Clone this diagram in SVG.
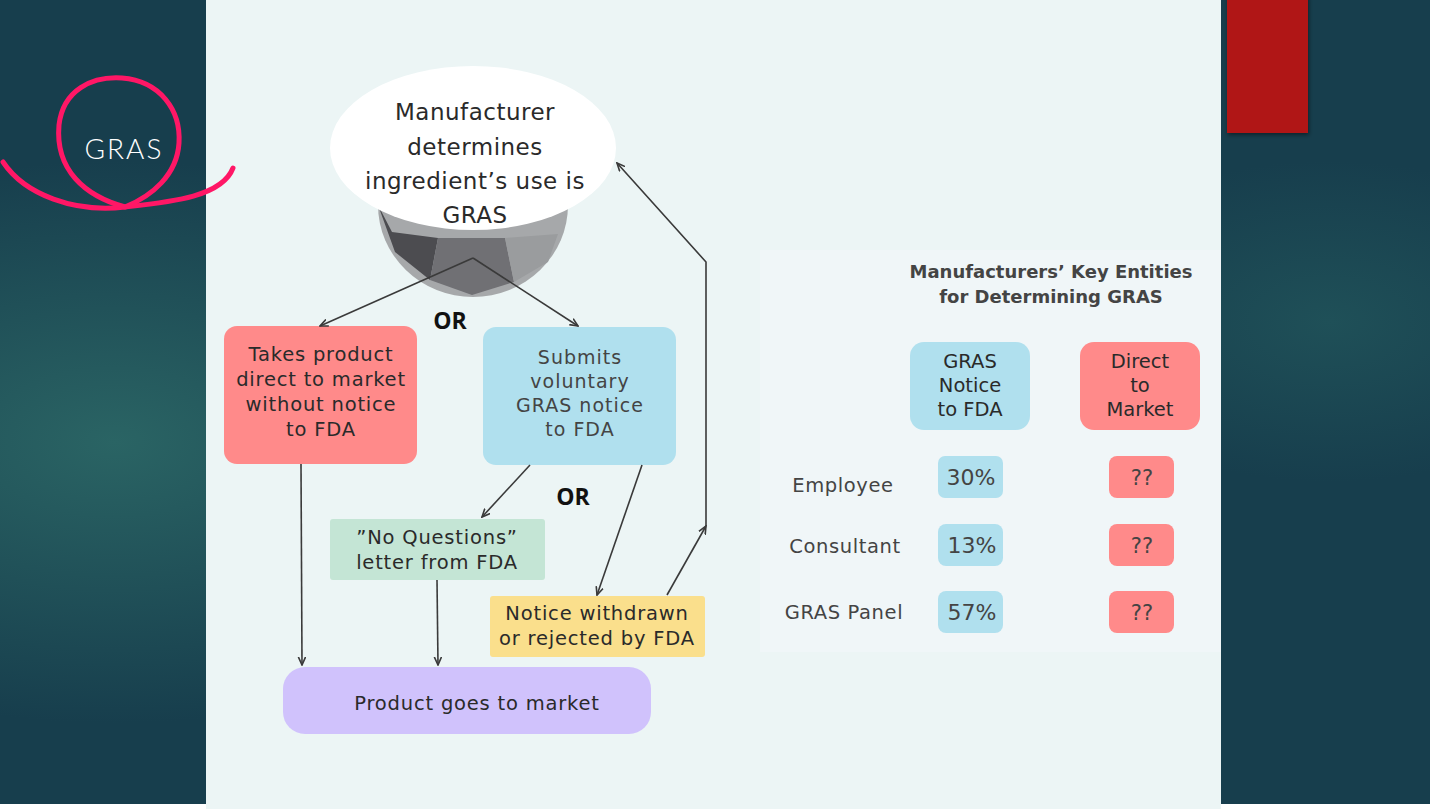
<svg xmlns="http://www.w3.org/2000/svg" width="1430" height="809" viewBox="0 0 1430 809">
<defs>
<radialGradient id="bgL" cx="0.08" cy="0.55" r="0.35">
<stop offset="0" stop-color="#2a6464"/>
<stop offset="1" stop-color="#2a6464" stop-opacity="0"/>
</radialGradient>
<radialGradient id="bgR" cx="0.93" cy="0.4" r="0.2">
<stop offset="0" stop-color="#1f5058"/>
<stop offset="1" stop-color="#1f5058" stop-opacity="0"/>
</radialGradient>
<marker id="arr" viewBox="0 0 10 10" refX="9" refY="5" markerWidth="9" markerHeight="9" markerUnits="userSpaceOnUse" orient="auto">
<path d="M0,1 L9,5 L0,9" fill="none" stroke="#3a3a3a" stroke-width="1.8"/>
</marker>
<filter id="sh" x="-20%" y="-20%" width="140%" height="140%">
<feDropShadow dx="1" dy="2" stdDeviation="2" flood-color="#000" flood-opacity="0.45"/>
</filter>
</defs>
<style>
.t{font-family:"DejaVu Sans","Liberation Sans",sans-serif;fill:#2a2a2a;text-anchor:middle}
.m{font-size:19.5px;letter-spacing:0.8px}
.h{font-size:19.5px}
.g{fill:#444}
.b{font-weight:bold}
.c{fill:none;stroke:#3a3a3a;stroke-width:1.6;marker-end:url(#arr)}
</style>
<rect x="0" y="0" width="1430" height="809" fill="#ffffff"/>
<rect x="0" y="0" width="1430" height="804" fill="#173e4d"/>
<rect x="0" y="0" width="1430" height="804" fill="url(#bgL)"/>
<rect x="0" y="0" width="1430" height="804" fill="url(#bgR)"/>
<rect x="206" y="0" width="1015" height="809" fill="#ecf5f5"/>
<rect x="760" y="250" width="461" height="402" fill="#f0f6f8"/>
<rect x="1227" y="-5" width="81" height="138" fill="#b01816" filter="url(#sh)"/>

<text class="t" x="124" y="159" style="fill:#ffffff;font-size:28px;font-weight:300;letter-spacing:2px;font-family:Lato,'Liberation Sans',sans-serif">GRAS</text>
<g fill="none" stroke="#ff1766" stroke-width="5" stroke-linecap="round" stroke-linejoin="round">
<path d="M3,162 C25,195 75,213 125,207 C170,202 222,197 233,168"/>
<path d="M125,207 C85,196 55,170 59,125 C63,90 92,76 122,78 C160,81 181,110 179,143 C177,175 152,196 125,207"/>
</g>

<g id="n-start">
<path d="M378,205 A95,92 0 0 0 568,205 Z" fill="#a6a8aa"/>
<path d="M378,205 L392,232 L438,238 L430,280 L395,252 Z" fill="#4c4c50"/>
<path d="M430,280 L438,238 L505,238 L514,282 L472,295 Z" fill="#707074"/>
<path d="M505,238 L558,234 L548,262 L514,282 Z" fill="#9a9c9e"/>
<ellipse cx="473" cy="148" rx="143" ry="82" fill="#ffffff"/>
<text class="t" x="475" y="120" style="font-size:23px;letter-spacing:0.5px">Manufacturer</text>
<text class="t" x="475" y="155" style="font-size:23px;letter-spacing:0.5px">determines</text>
<text class="t" x="475" y="189" style="font-size:23px;letter-spacing:0.5px">ingredient’s use is</text>
<text class="t" x="475" y="223" style="font-size:23px;letter-spacing:0.5px">GRAS</text>
</g>

<text class="t b" x="450" y="329" style="font-size:23px;fill:#111;font-family:'Open Sans',sans-serif">OR</text>
<text class="t b" x="573" y="505" style="font-size:23px;fill:#111;font-family:'Open Sans',sans-serif">OR</text>

<g id="n-direct">
<rect x="224" y="326" width="193" height="138" rx="13" fill="#ff8a8a"/>
<text class="t m" x="321" y="361">Takes product</text>
<text class="t m" x="321" y="386">direct to market</text>
<text class="t m" x="321" y="411">without notice</text>
<text class="t m" x="321" y="436">to FDA</text>
</g>

<g id="n-submit">
<rect x="483" y="327" width="193" height="138" rx="13" fill="#b0e0ee"/>
<text class="t g" x="580" y="364" style="font-size:19px;letter-spacing:1px">Submits</text>
<text class="t g" x="580" y="388" style="font-size:19px;letter-spacing:1px">voluntary</text>
<text class="t g" x="580" y="412" style="font-size:19px;letter-spacing:1px">GRAS notice</text>
<text class="t g" x="580" y="436" style="font-size:19px;letter-spacing:1px">to FDA</text>
</g>

<g id="n-noq">
<rect x="330" y="519" width="215" height="61" rx="3" fill="#c4e5d5"/>
<text class="t m" x="437" y="544">”No Questions”</text>
<text class="t m" x="437" y="569">letter from FDA</text>
</g>

<g id="n-withdrawn">
<rect x="490" y="596" width="215" height="61" rx="3" fill="#fadf8c"/>
<text class="t m" x="597" y="620">Notice withdrawn</text>
<text class="t m" x="597" y="645">or rejected by FDA</text>
</g>

<g id="n-market">
<rect x="283" y="667" width="368" height="67" rx="22" fill="#d0c2fc"/>
<text class="t m" x="477" y="710">Product goes to market</text>
</g>

<g id="connectors">
<path class="c" d="M473,258 L320,326"/>
<path class="c" d="M473,258 L578,326"/>
<path class="c" d="M301,464 L302,665"/>
<path class="c" d="M437,580 L438,665"/>
<path class="c" d="M530,465 L482,517"/>
<path class="c" d="M642,465 L597,595"/>
<path class="c" d="M667,595 L706,526"/>
<path class="c" d="M706,526 L706,262 L617,163"/>
</g>

<g id="table">
<text class="t b g" x="1051" y="278" style="font-size:18px">Manufacturers’ Key Entities</text>
<text class="t b g" x="1051" y="303" style="font-size:18px">for Determining GRAS</text>
<g id="h-notice">
<rect x="910" y="342" width="120" height="88" rx="14" fill="#b0e0ee"/>
<text class="t h" x="970" y="368">GRAS</text>
<text class="t h" x="970" y="392">Notice</text>
<text class="t h" x="970" y="416">to FDA</text>
</g>
<g id="h-direct">
<rect x="1080" y="342" width="120" height="88" rx="14" fill="#ff8a8a"/>
<text class="t h" x="1140" y="368">Direct</text>
<text class="t h" x="1140" y="392">to</text>
<text class="t h" x="1140" y="416">Market</text>
</g>
<text class="t g" x="843" y="492" style="font-size:19.5px;letter-spacing:0.6px">Employee</text>
<text class="t g" x="845" y="553" style="font-size:19.5px;letter-spacing:0.6px">Consultant</text>
<text class="t g" x="844" y="619" style="font-size:19.5px;letter-spacing:0.6px">GRAS Panel</text>
<g id="v-emp">
<rect x="938" y="456" width="65" height="42" rx="7" fill="#b0e0ee"/>
<text class="t g" x="971" y="485" style="font-size:22px">30%</text>
<rect x="1109" y="456" width="65" height="42" rx="8" fill="#ff8a8a"/>
<text class="t g" x="1142" y="485" style="font-size:21px">??</text>
</g>
<g id="v-con">
<rect x="938" y="524" width="65" height="42" rx="8" fill="#b0e0ee"/>
<text class="t g" x="972" y="553" style="font-size:22px">13%</text>
<rect x="1109" y="524" width="65" height="42" rx="8" fill="#ff8a8a"/>
<text class="t g" x="1142" y="553" style="font-size:21px">??</text>
</g>
<g id="v-pan">
<rect x="938" y="591" width="65" height="42" rx="8" fill="#b0e0ee"/>
<text class="t g" x="972" y="620" style="font-size:22px">57%</text>
<rect x="1109" y="591" width="65" height="42" rx="8" fill="#ff8a8a"/>
<text class="t g" x="1142" y="620" style="font-size:21px">??</text>
</g>
</g>
</svg>
